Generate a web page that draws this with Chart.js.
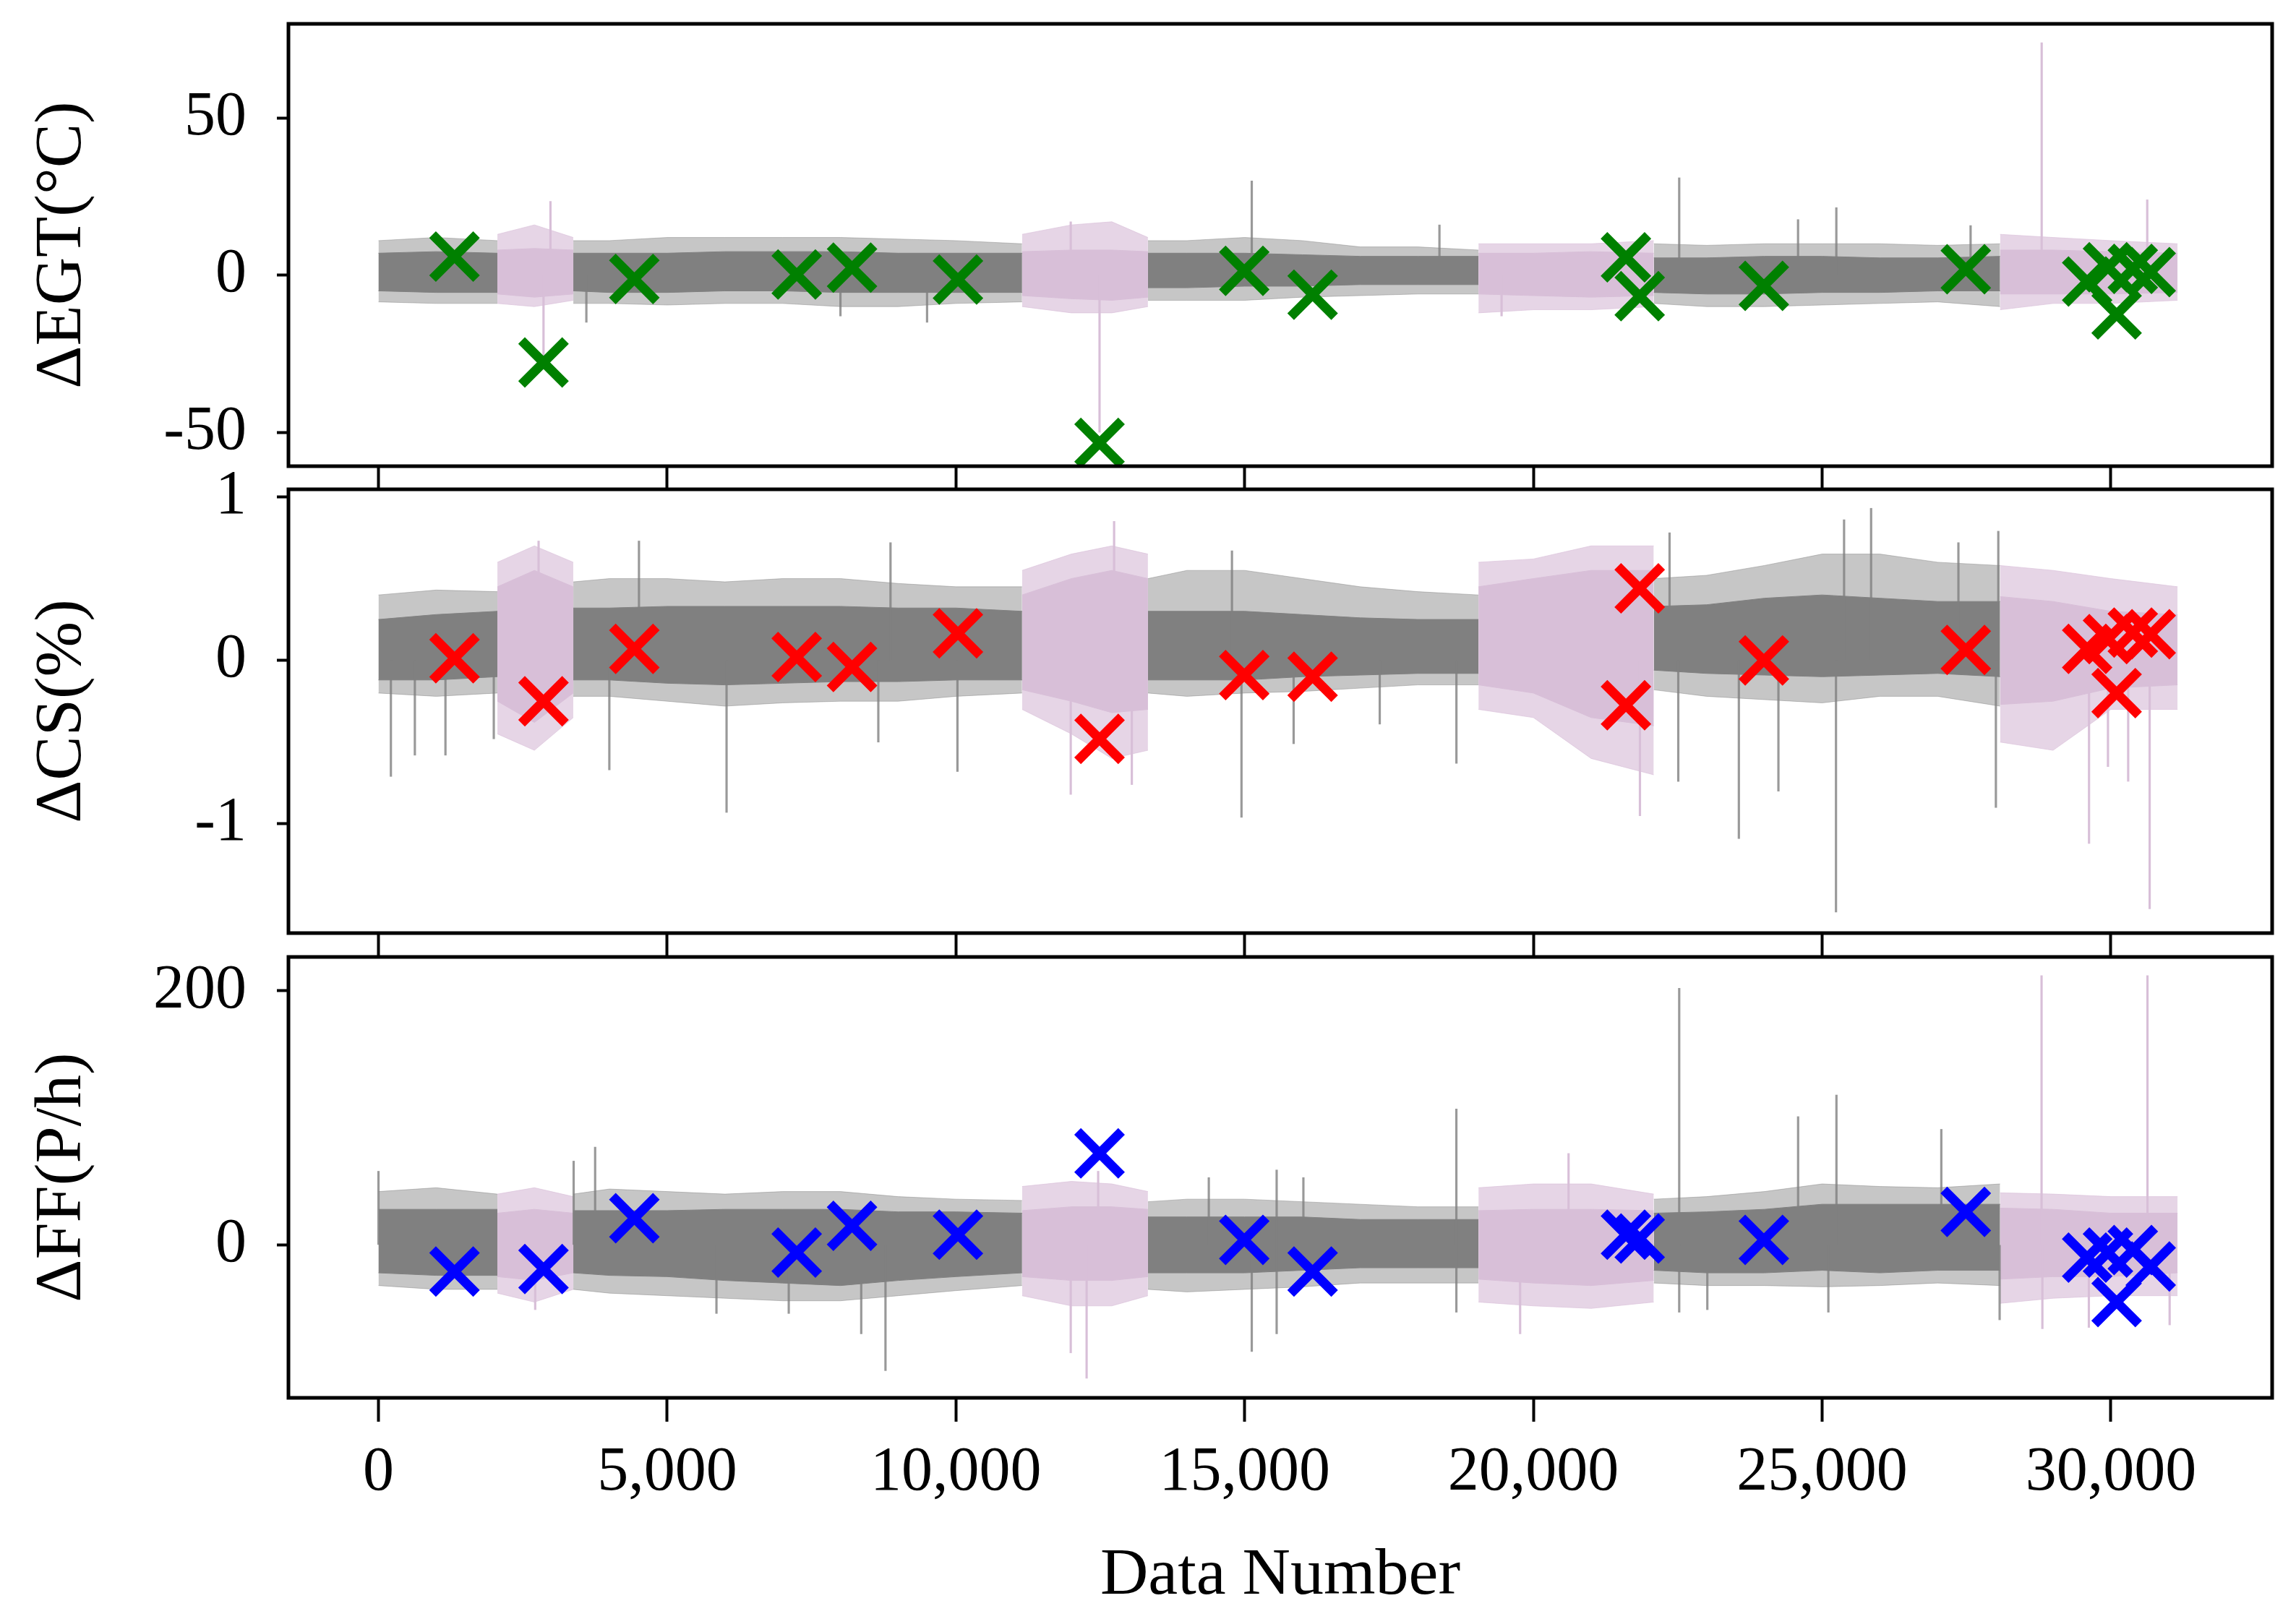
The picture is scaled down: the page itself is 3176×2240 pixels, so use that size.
<!DOCTYPE html>
<html>
<head>
<meta charset="utf-8">
<title>ΔEGT, ΔCS and ΔFF against data number</title>
<script src="https://cdn.jsdelivr.net/npm/chart.js@4.4.1/dist/chart.umd.min.js"></script>
<style>
  html, body { margin: 0; padding: 0; background: #fff; }
  #figure { position: relative; width: 3176px; height: 2240px; }
  #figure canvas { position: absolute; left: 0; top: 0; }
</style>
</head>
<body>
<div id="figure">
  <canvas id="egtChart" width="3176" height="2240"></canvas>
  <canvas id="csChart" width="3176" height="2240"></canvas>
  <canvas id="ffChart" width="3176" height="2240"></canvas>
</div>
<script>
// Data numbers where the trace switches between the grey and the pink stretches.
const regimeStarts = [0, 2060, 3374, 11146, 13326, 19049, 22085, 28082];

const bandX = [
  0, 1000, 2059,
  2060, 2700, 3373,
  3374, 4000, 5000, 6000, 7000, 8000, 9000, 10000, 11145,
  11146, 12000, 12700, 13325,
  13326, 14000, 15000, 16000, 17000, 18000, 19048,
  19049, 20000, 21000, 22084,
  22085, 23000, 24000, 25000, 26000, 27000, 28081,
  28082, 29000, 30000, 31155
];

const xTicks = [0, 5000, 10000, 15000, 20000, 25000, 30000];

// ΔEGT (°C): dense core and outer whiskers of the trace
const egtCoreHi = [7, 7.5, 7, 8, 8.5, 8, 7, 7, 7, 7.5, 7.5, 7.5, 7, 7, 7, 7.5, 8, 8, 7.5,
  7, 7, 7, 6.5, 6, 6, 6, 7, 7, 7.5, 7, 5.5, 5.5, 6, 6, 5.5, 5.5, 6, 8, 8, 7.5, 7];
const egtCoreLo = [-5, -5.5, -5.5, -6, -7, -6, -5, -5.5, -5.5, -5, -5, -5.5, -5.5, -5.5, -5.5,
  -6.5, -7.5, -8, -7, -4, -4, -3.5, -3.5, -3, -3, -3, -6, -6.5, -7, -6.5,
  -5.5, -6, -6, -5.5, -5.5, -5, -5, -6, -6, -6, -5.5];
const egtOutHi = [11, 12, 11, 13, 16, 12, 11, 11, 12, 12, 12, 12, 11.5, 11, 10, 13, 16, 17, 12,
  11, 11, 12, 11, 9, 9, 8, 10, 10, 10, 11, 10, 9.5, 10, 10, 10, 9.5, 10, 13, 12, 11, 10];
const egtOutLo = [-8.5, -9, -9, -9, -10, -8, -9, -9, -9.5, -9, -9, -10, -10, -9, -8.5,
  -10, -12, -12, -10, -8, -8, -8, -7, -6.5, -6, -6, -12, -11, -11, -10,
  -9, -10, -10, -9.5, -9, -8.5, -10, -11, -9, -9, -8];
const egtSpikeX = [2858, 2978, 3600, 8000, 9500, 11988, 12487, 15123, 18373, 19449, 22525, 24583, 25246, 27571, 28802, 30630];
const egtSpikeY = [-26, 23.5, -15, -13, -15, 17, -50, 30, 16, -13, 31, 17.7, 21.5, 15.8, 74, 24];

// ΔCS (%)
const csCoreHi = [0.25, 0.28, 0.3, 0.45, 0.55, 0.45, 0.32, 0.32, 0.33, 0.33, 0.33, 0.33, 0.32, 0.32, 0.3,
  0.4, 0.5, 0.55, 0.5, 0.3, 0.3, 0.3, 0.28, 0.26, 0.25, 0.25, 0.45, 0.5, 0.55, 0.55,
  0.33, 0.34, 0.38, 0.4, 0.38, 0.36, 0.36, 0.39, 0.36, 0.3, 0.28];
const csCoreLo = [-0.12, -0.12, -0.1, -0.25, -0.38, -0.2, -0.12, -0.12, -0.14, -0.15, -0.14, -0.13, -0.13, -0.12, -0.12,
  -0.18, -0.25, -0.32, -0.3, -0.12, -0.12, -0.12, -0.1, -0.09, -0.08, -0.08, -0.15, -0.2, -0.35, -0.4,
  -0.06, -0.08, -0.09, -0.1, -0.09, -0.08, -0.1, -0.27, -0.25, -0.17, -0.15];
const csOutHi = [0.4, 0.43, 0.42, 0.6, 0.7, 0.6, 0.48, 0.5, 0.5, 0.48, 0.5, 0.5, 0.47, 0.45, 0.45,
  0.55, 0.65, 0.7, 0.65, 0.5, 0.55, 0.55, 0.5, 0.45, 0.42, 0.4, 0.6, 0.62, 0.7, 0.7,
  0.5, 0.52, 0.58, 0.65, 0.65, 0.6, 0.58, 0.58, 0.55, 0.5, 0.45];
const csOutLo = [-0.2, -0.22, -0.2, -0.45, -0.55, -0.35, -0.22, -0.22, -0.25, -0.28, -0.26, -0.25, -0.25, -0.22, -0.2,
  -0.3, -0.45, -0.6, -0.55, -0.2, -0.22, -0.2, -0.19, -0.17, -0.15, -0.15, -0.3, -0.35, -0.6, -0.7,
  -0.18, -0.22, -0.24, -0.26, -0.22, -0.22, -0.28, -0.5, -0.55, -0.3, -0.3];
const csSpikeX = [215, 630, 1160, 1997, 2773, 3998, 4511, 6028, 8656, 8867, 10026, 11988, 12739, 13046, 14780, 14945, 15848,
  17339, 18667, 21845, 22358, 22509, 23558, 24243, 25240, 25380, 25848, 27360, 28009, 28051, 29622, 29950, 30300, 30672];
const csSpikeY = [-0.71, -0.58, -0.58, -0.48, 0.73, -0.67, 0.73, -0.93, -0.5, 0.72, -0.68, -0.82, 0.85, -0.76, 0.67, -0.96, -0.51,
  -0.39, -0.63, -0.95, 0.78, -0.74, -1.09, -0.8, -1.54, 0.86, 0.93, 0.72, -0.9, 0.79, -1.12, -0.65, -0.74, -1.52];

// ΔFF (P/h)
const ffCoreHi = [28, 28, 28, 25, 28, 25, 27, 27, 27, 28, 28, 28, 26, 26, 25, 27, 30, 30, 28,
  22, 22, 22, 22, 20, 20, 20, 27, 28, 28, 27, 25, 26, 28, 32, 32, 32, 32, 29, 28, 25, 25];
const ffCoreLo = [-22, -24, -24, -25, -28, -22, -22, -24, -25, -28, -30, -32, -28, -25, -22,
  -25, -28, -28, -25, -22, -22, -22, -20, -18, -18, -18, -27, -30, -32, -28,
  -20, -22, -22, -20, -22, -20, -20, -27, -25, -25, -22];
const ffOutHi = [42, 45, 40, 40, 45, 38, 40, 44, 42, 40, 42, 42, 38, 36, 35, 46, 50, 48, 42,
  34, 36, 36, 34, 32, 30, 30, 45, 48, 48, 40, 36, 38, 42, 48, 46, 45, 48, 41, 40, 38, 38];
const ffOutLo = [-32, -35, -35, -38, -45, -35, -35, -38, -40, -42, -44, -44, -40, -36, -32,
  -40, -48, -48, -40, -35, -37, -35, -33, -30, -30, -30, -45, -48, -50, -45,
  -30, -32, -32, -33, -32, -30, -32, -46, -42, -40, -40];
const ffSpikeX = [0, 2714, 3380, 3752, 5853, 7105, 8360, 8780, 11988, 12263, 12463, 14379, 15123, 15554, 15554, 16017,
  18666, 18666, 19770, 20609, 22525, 22525, 23012, 24584, 25108, 25248, 27064, 28074, 28800, 28814, 29619, 30634, 31018];
const ffSpikeY = [58, -51, 66, 77, -54, -54, -70, -99, -85, -105, 58, 53, -84, 59, -70, 53,
  107, -53, -70, 72, 202, -53, -51, 101, -53, 118, 91, -59, 212, -66, -65, 212, -63];

// Flagged samples (crosses), same data numbers in all three panels
const markerX = [1317, 2858, 4431, 7243, 8201, 10035, 12487, 14993, 16177, 21603, 21841, 23991, 27488, 29590, 29950, 30100, 30380, 30690];
const egtMarkers = [5.9, -27.8, -1.2, 0.2, 2.4, -1.4, -53.4, 1.4, -6.2, 5.7, -6.7, -3.4, 1.9, -2, 2.5, -12.5, 2, 1];
const csMarkers = [0.013, -0.25, 0.07, 0.02, -0.04, 0.165, -0.48, -0.09, -0.1, -0.275, 0.44, 0, 0.064, 0.07, 0.13, -0.2, 0.17, 0.16];
const ffMarkers = [-21, -19, 21, -6, 15, 8, 72, 4, -21, 8, 5, 4, 26, -10, -6, -45, -4, -17];

const FONT = "'Liberation Serif', 'Times New Roman', serif";
const coreColors = ['#808080', '#d8bfd8'];
const hazeColors = ['rgba(128,128,128,0.45)', 'rgba(216,191,216,0.65)'];
const spikeColors = ['rgba(128,128,128,0.8)', '#d8bfd8'];

const regimeOf = x => {
  let s = 0;
  regimeStarts.forEach((start, i) => { if (x >= start) s = i; });
  return s;
};

// One filled band per stretch, between an upper and a lower envelope.
const bandDatasets = (hi, lo, colors, order) => {
  const sets = [];
  regimeStarts.forEach((start, s) => {
    const idx = bandX.map((x, i) => i).filter(i => regimeOf(bandX[i]) === s);
    const color = colors[s % 2];
    sets.push({
      type: 'line', data: idx.map(i => ({ x: bandX[i], y: hi[i] })),
      fill: '+1', backgroundColor: color, borderColor: color, borderWidth: 1,
      pointRadius: 0, order
    });
    sets.push({
      type: 'line', data: idx.map(i => ({ x: bandX[i], y: lo[i] })),
      fill: false, borderColor: color, borderWidth: 1, pointRadius: 0, order
    });
  });
  return sets;
};

const spikeDataset = (xs, ys) => ({
  type: 'bar',
  data: xs.map((x, i) => ({ x, y: [0, ys[i]] })),
  backgroundColor: xs.map(x => spikeColors[regimeOf(x) % 2]),
  borderWidth: 0, barThickness: 2.5, grouped: false, order: 1
});

const markerDataset = (values, color) => ({
  type: 'scatter',
  data: markerX.map((x, i) => ({ x, y: values[i] })),
  pointStyle: 'crossRot', pointRadius: 43, pointBorderWidth: 13,
  pointBorderColor: color, pointBackgroundColor: color, showLine: false, order: 0
});

const framePlugin = {
  id: 'frame',
  afterDraw(chart) {
    const { ctx, chartArea: a } = chart;
    ctx.save();
    ctx.strokeStyle = '#000';
    ctx.lineWidth = 5;
    ctx.strokeRect(a.left, a.top, a.right - a.left, a.bottom - a.top);
    ctx.restore();
  }
};

const buildPanel = (canvasId, p) => new Chart(document.getElementById(canvasId), {
  type: 'scatter',
  data: {
    datasets: [
      markerDataset(p.markers, p.color),
      spikeDataset(p.spikeX, p.spikeY),
      ...bandDatasets(p.coreHi, p.coreLo, coreColors, 2),
      ...bandDatasets(p.outHi, p.outLo, hazeColors, 3)
    ]
  },
  options: {
    responsive: false,
    animation: false,
    devicePixelRatio: 1,
    events: [],
    layout: { autoPadding: false, padding: { top: p.top, right: 33, bottom: 0, left: 0 } },
    plugins: { legend: { display: false }, tooltip: { enabled: false } },
    scales: {
      x: {
        type: 'linear', min: -1559, max: 32793, offset: false,
        afterBuildTicks: s => { s.ticks = xTicks.map(v => ({ value: v })); },
        afterFit: s => {
          s.height = 2240 - p.bottom;
          s.paddingLeft = 0; s.paddingRight = 0; s.paddingTop = 0; s.paddingBottom = 0;
        },
        grid: {
          display: true, offset: false, drawOnChartArea: false, drawTicks: true,
          tickLength: 33, tickWidth: 4, tickColor: '#000'
        },
        border: { display: false },
        ticks: {
          display: p.showX, padding: 20, maxRotation: 0, autoSkip: false, color: '#000',
          font: { family: FONT, size: 86 },
          callback: v => v.toLocaleString('en-US')
        },
        title: {
          display: p.showX, text: 'Data Number', color: '#000',
          font: { family: FONT, size: 92 }, padding: { top: 0, bottom: 4 }
        }
      },
      y: {
        type: 'linear', min: p.yMin, max: p.yMax,
        afterBuildTicks: s => { s.ticks = p.yTicks.map(v => ({ value: v })); },
        afterFit: s => {
          s.width = 399;
          s.paddingLeft = 0; s.paddingRight = 0; s.paddingTop = 0; s.paddingBottom = 0;
        },
        grid: {
          display: true, offset: false, drawOnChartArea: false, drawTicks: true,
          tickLength: 16, tickWidth: 4, tickColor: '#000'
        },
        border: { display: false },
        ticks: {
          padding: 42, color: '#000', font: { family: FONT, size: 86 },
          callback: v => String(v)
        },
        title: {
          display: true, text: p.title, color: '#000',
          font: { family: FONT, size: 92 }, padding: { top: 32, bottom: 0 }
        }
      }
    }
  },
  plugins: [framePlugin]
});

buildPanel('egtChart', {
  top: 33, bottom: 645, yMin: -60.8, yMax: 80, yTicks: [-50, 0, 50], title: 'ΔEGT(°C)',
  coreHi: egtCoreHi, coreLo: egtCoreLo, outHi: egtOutHi, outLo: egtOutLo,
  spikeX: egtSpikeX, spikeY: egtSpikeY, markers: egtMarkers, color: '#008000', showX: false
});
buildPanel('csChart', {
  top: 677, bottom: 1291, yMin: -1.668, yMax: 1.046, yTicks: [-1, 0, 1], title: 'ΔCS(%)',
  coreHi: csCoreHi, coreLo: csCoreLo, outHi: csOutHi, outLo: csOutLo,
  spikeX: csSpikeX, spikeY: csSpikeY, markers: csMarkers, color: '#ff0000', showX: false
});
buildPanel('ffChart', {
  top: 1324, bottom: 1934, yMin: -120.4, yMax: 226.7, yTicks: [0, 200], title: 'ΔFF(P/h)',
  coreHi: ffCoreHi, coreLo: ffCoreLo, outHi: ffOutHi, outLo: ffOutLo,
  spikeX: ffSpikeX, spikeY: ffSpikeY, markers: ffMarkers, color: '#0000ff', showX: true
});
</script>
</body>
</html>
